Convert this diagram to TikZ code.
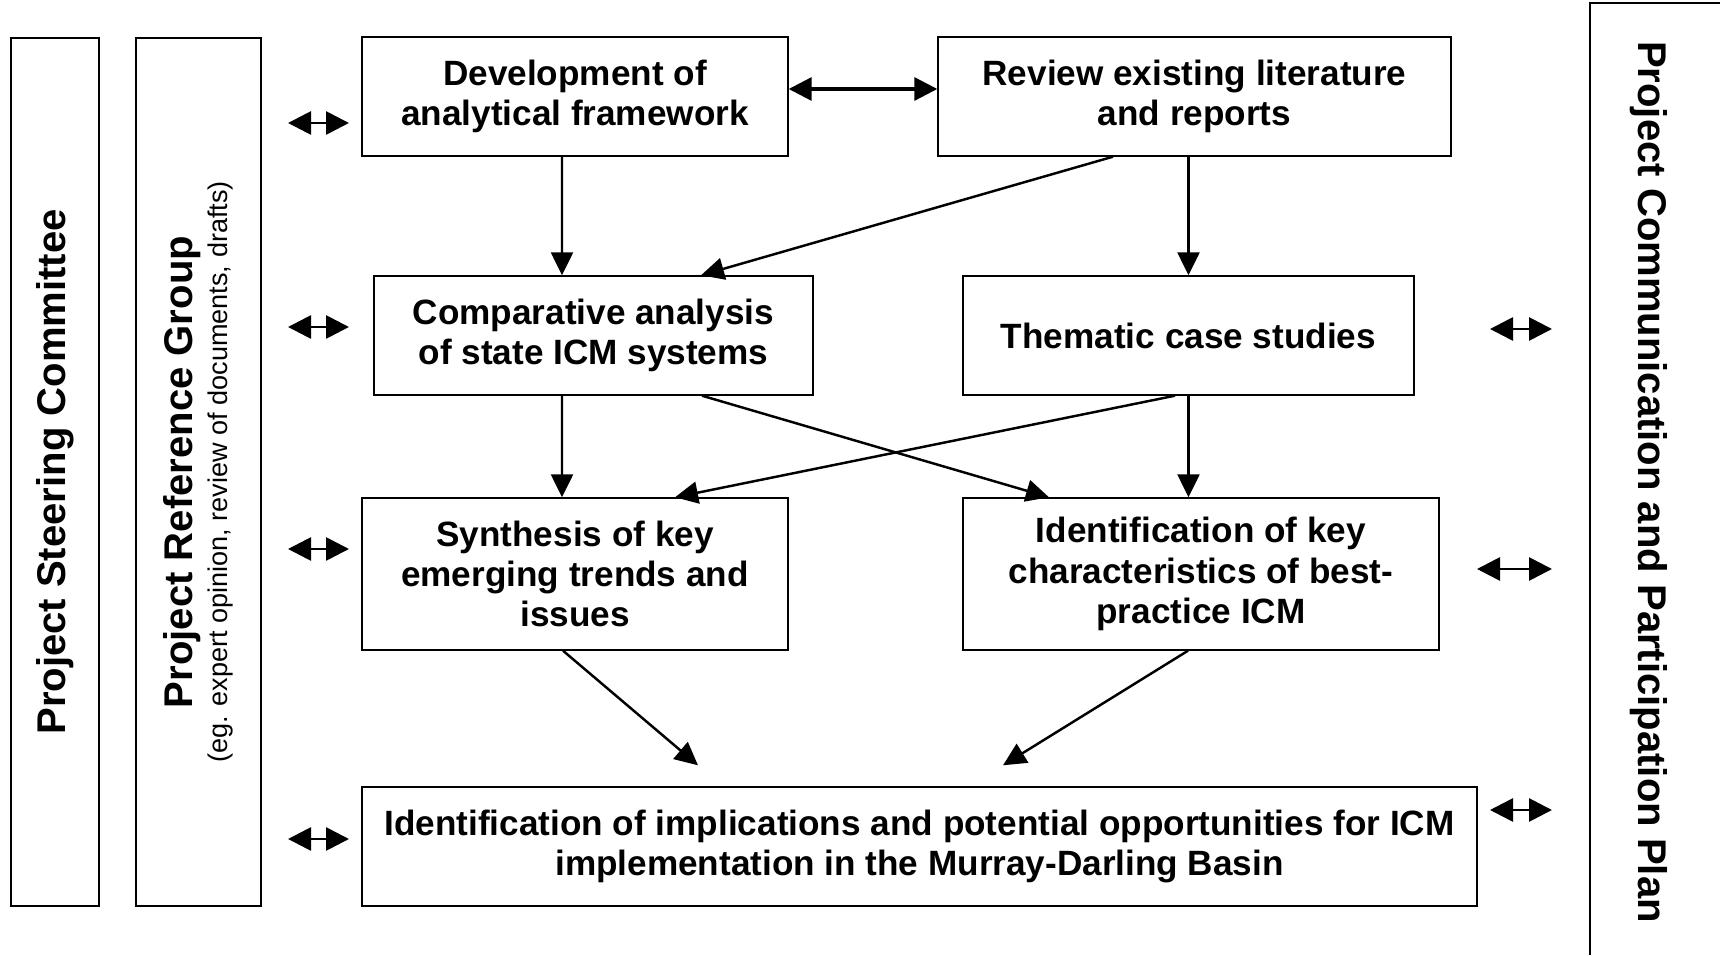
\documentclass[tikz,border=0pt]{standalone}
\usepackage{fontspec}
\setmainfont{Liberation Sans}
\usetikzlibrary{arrows.meta}
\newcommand{\boxfont}{\fontsize{20}{23}\selectfont\bfseries}
\newcommand{\sidefont}{\fontsize{22.8}{27}\selectfont\bfseries}
\newcommand{\notefont}{\fontsize{15.4}{20}\selectfont}

\begin{document}
\begin{tikzpicture}[
        box/.style={rectangle, draw, line width=0.8pt, align=center, font=\boxfont, inner sep=0pt, minimum height=2.38cm},
        sidebox/.style={rectangle, draw, line width=0.8pt, align=center, inner sep=0pt, rotate=90, minimum width=17.36cm},
        arrow/.style={->, >={Triangle[length=4.6mm, width=4.4mm]}, line width=1.4pt},
        dblarrow/.style={<->, >={Triangle[length=4.6mm, width=4.6mm]}, line width=1.6pt}
    ]
        \useasboundingbox (0,0) rectangle (34.4,19.1);

        % side panels
        \node[sidebox, minimum height=1.76cm, font=\sidefont] (steer) at (1.10,9.66) {Project Steering Committee};
        \node[sidebox, minimum height=2.5cm, font=\notefont] (refgrp) at (3.97,9.66) {{\sidefont Project Reference Group}\\(eg. expert opinion, review of documents, drafts)};
        \draw[line width=0.8pt] (31.8,0) |- (34.4,19.04);
        \node[font=\sidefont, rotate=-90] (comm) at (32.98,9.46) {Project Communication and Participation Plan};

        % work steps
        \node[box, minimum width=8.52cm] (dev) at (11.5,17.17) {Development of\\analytical framework};
        \node[box, minimum width=10.26cm] (review) at (23.89,17.17) {Review existing literature\\and reports};
        \node[box, minimum width=8.78cm] (comp) at (11.87,12.39) {Comparative analysis\\of state ICM systems};
        \node[box, minimum width=9.02cm] (theme) at (23.77,12.39) {Thematic case studies};
        \node[box, minimum width=8.52cm, minimum height=3.04cm] (synth) at (11.5,7.62) {Synthesis of key\\emerging trends and\\issues};
        \node[box, minimum width=9.52cm, minimum height=3.04cm] (keychar) at (24.02,7.62) {Identification of key\\characteristics of best-\\practice ICM};
        \node[box, minimum width=22.3cm] (impl) at (18.39,2.17) {Identification of implications and potential opportunities for ICM\\implementation in the Murray-Darling Basin};

        \draw[dblarrow, line width=1.8pt] ([yshift=0.15cm]dev.east) -- ([yshift=0.15cm]review.west);
        \draw[arrow] ([xshift=-0.26cm]dev.south) -- ([xshift=-0.63cm]comp.north);
        \draw[arrow] ([xshift=-1.63cm]review.south) -- ([xshift=2.15cm]comp.north);
        \draw[arrow] (review.south -| theme.north) -- (theme.north);
        \draw[arrow] ([xshift=-0.63cm]comp.south) -- ([xshift=-0.26cm]synth.north);
        \draw[arrow] ([xshift=2.17cm]comp.south) -- ([xshift=-3.04cm]keychar.north);
        \draw[arrow] ([xshift=-0.27cm]theme.south) -- ([xshift=2.0cm]synth.north);
        \draw[arrow] (theme.south) -- (theme.south |- keychar.north);
        \draw[arrow] ([xshift=-0.24cm]synth.south) -- ([xshift=-4.43cm, yshift=0.42cm]impl.north);
        \draw[arrow] ([xshift=-0.26cm]keychar.south) -- ([xshift=1.67cm, yshift=0.42cm]impl.north);

        % links to the side panels
        \coordinate (lw1) at (5.76,16.64);
        \coordinate (le1) at (6.98,16.64);
        \coordinate (lw2) at (5.76,12.56);
        \coordinate (le2) at (6.98,12.56);
        \coordinate (lw3) at (5.76,8.12);
        \coordinate (le3) at (6.98,8.12);
        \coordinate (lw4) at (5.76,2.32);
        \coordinate (le4) at (6.98,2.32);
        \coordinate (rw1) at (29.8,12.52);
        \coordinate (re1) at (31.04,12.52);
        \coordinate (rw2) at (29.54,7.72);
        \coordinate (re2) at (31.04,7.72);
        \coordinate (rw3) at (29.8,2.9);
        \coordinate (re3) at (31.04,2.9);

        \draw[dblarrow] (lw1) -- (le1);
        \draw[dblarrow] (lw2) -- (le2);
        \draw[dblarrow] (lw3) -- (le3);
        \draw[dblarrow] (lw4) -- (le4);
        \draw[dblarrow] (rw1) -- (re1);
        \draw[dblarrow] (rw2) -- (re2);
        \draw[dblarrow] (rw3) -- (re3);
    \end{tikzpicture}
\end{document}
